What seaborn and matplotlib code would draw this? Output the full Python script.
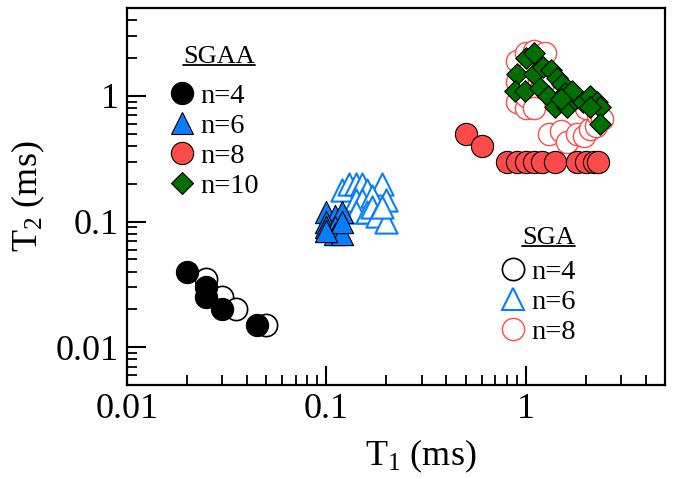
import matplotlib
matplotlib.use("Agg")
import matplotlib.pyplot as plt
import pandas as pd
import seaborn as sns
from matplotlib.lines import Line2D
from matplotlib.ticker import LogLocator, NullFormatter, FixedLocator, FixedFormatter

# ======================================
# DADOS (T1, T2 em ms)
# ======================================
# SGAA (símbolos cheios)
sgaa4_t1 = [0.02, 0.025, 0.025, 0.03, 0.045]
sgaa4_t2 = [0.04, 0.03, 0.025, 0.02, 0.015]

sgaa6_t1 = [0.10, 0.11, 0.12, 0.10, 0.10, 0.11, 0.11, 0.12, 0.12, 0.10]
sgaa6_t2 = [0.12, 0.11, 0.12, 0.10, 0.09, 0.09, 0.08, 0.08, 0.10, 0.085]

sgaa8_t1 = [0.5, 0.6, 0.8, 0.9, 1.0, 1.1, 1.2, 1.4, 1.8, 2.0, 2.2, 2.3]
sgaa8_t2 = [0.5, 0.4, 0.3, 0.3, 0.3, 0.3, 0.3, 0.3, 0.3, 0.3, 0.3, 0.3]

sgaa10_t1 = [1.0, 1.1, 0.9, 1.1, 1.22, 1.33, 1.44, 1.52, 0.88, 0.99, 1.18, 1.29,
             1.4, 1.61, 1.77, 1.94, 2.1, 2.28, 2.36, 2.1, 2.36, 1.58, 1.7, 1.5]
sgaa10_t2 = [2.0, 2.2, 1.5, 1.5, 1.7, 1.6, 1.4, 1.25, 1.1, 1.1, 1.15, 1.0,
             0.82, 0.82, 0.95, 0.9, 1.0, 0.9, 0.82, 0.82, 0.6, 1.05, 1.1, 0.95]

# SGA (símbolos vazios)
sga4_t1 = [0.025, 0.03, 0.035, 0.05]
sga4_t2 = [0.035, 0.025, 0.02, 0.015]

sga6_t1 = [0.12, 0.13, 0.14, 0.15, 0.16, 0.19, 0.14, 0.15, 0.17, 0.20,
           0.14, 0.16, 0.17, 0.18, 0.20, 0.19]
sga6_t2 = [0.18, 0.20, 0.20, 0.20, 0.18, 0.20, 0.15, 0.15, 0.16, 0.15,
           0.12, 0.12, 0.13, 0.11, 0.10, 0.13]

sga8_t1 = [0.9, 1.0, 1.1, 1.25, 0.9, 1.0, 1.3, 1.5, 1.6, 1.8, 1.95, 2.1, 2.25,
           1.0, 1.2, 1.5, 2.0, 2.3, 0.9, 1.0, 1.1, 2.4]
sga8_t2 = [1.9, 2.2, 2.3, 2.2, 0.9, 0.8, 0.5, 0.53, 0.43, 0.5, 0.48, 0.55, 0.58,
           1.5, 1.2, 1.0, 0.8, 0.7, 1.3, 1.0, 0.8, 0.65]

# ======================================
# ESTILO
# ======================================
AZUL = "#0a7dff"
VERMELHO = "#ff4a4a"
VERDE = "#006f00"

sns.set_style("ticks")
plt.rcParams["font.family"] = ["Liberation Serif", "DejaVu Serif"]
plt.rcParams["mathtext.fontset"] = "custom"
plt.rcParams["mathtext.rm"] = "Liberation Serif"
plt.rcParams["mathtext.it"] = "Liberation Serif:italic"
plt.rcParams["text.color"] = "black"
plt.rcParams["axes.labelcolor"] = "black"
plt.rcParams["xtick.color"] = "black"
plt.rcParams["ytick.color"] = "black"

fig = plt.figure(figsize=(6.76, 4.79), dpi=100)
ax = fig.add_axes([0.188, 0.196, 0.796, 0.787])


def df(t1, t2):
    return pd.DataFrame({"T1": t1, "T2": t2})


# SGA - vazios (atrás)
sns.scatterplot(data=df(sga4_t1, sga4_t2), x="T1", y="T2", ax=ax, marker="o", s=256,
                facecolor="white", edgecolor="black", linewidth=1.2, zorder=2, legend=False)
sns.scatterplot(data=df(sga6_t1, sga6_t2), x="T1", y="T2", ax=ax, marker="^", s=256,
                facecolor="white", edgecolor=AZUL, linewidth=1.5, zorder=2, legend=False)
sns.scatterplot(data=df(sga8_t1, sga8_t2), x="T1", y="T2", ax=ax, marker="o", s=256,
                facecolor="white", edgecolor=VERMELHO, linewidth=1.0, zorder=2, legend=False)

# SGAA - cheios (na frente)
sns.scatterplot(data=df(sgaa4_t1, sgaa4_t2), x="T1", y="T2", ax=ax, marker="o", s=256,
                color="black", edgecolor="black", linewidth=0.8, zorder=3, legend=False)
sns.scatterplot(data=df(sgaa6_t1, sgaa6_t2), x="T1", y="T2", ax=ax, marker="^", s=256,
                color=AZUL, edgecolor="black", linewidth=0.8, zorder=3, legend=False)
sns.scatterplot(data=df(sgaa8_t1, sgaa8_t2), x="T1", y="T2", ax=ax, marker="o", s=256,
                color=VERMELHO, edgecolor="black", linewidth=0.8, zorder=3, legend=False)
sns.scatterplot(data=df(sgaa10_t1, sgaa10_t2), x="T1", y="T2", ax=ax, marker="D", s=120,
                color=VERDE, edgecolor="black", linewidth=0.8, zorder=4, legend=False)

# ======================================
# EIXOS
# ======================================
ax.set_xscale("log")
ax.set_yscale("log")
ax.set_xlim(0.01, 5)
ax.set_ylim(0.005, 5)

for eixo in (ax.xaxis, ax.yaxis):
    eixo.set_major_locator(FixedLocator([0.01, 0.1, 1]))
    eixo.set_major_formatter(FixedFormatter(["0.01", "0.1", "1"]))
    eixo.set_minor_locator(LogLocator(base=10, subs=range(2, 10), numticks=20))
    eixo.set_minor_formatter(NullFormatter())
ax.xaxis.set_ticks_position("bottom")
ax.yaxis.set_ticks_position("left")

ax.tick_params(which="major", direction="in", length=14, width=1.5, labelsize=26,
               pad=6, colors="black")
ax.tick_params(which="minor", direction="in", length=7, width=1.3, colors="black")
for sp in ax.spines.values():
    sp.set_linewidth(1.6)
    sp.set_color("black")

ax.set_xlabel("T$_1$ (ms)", fontsize=26)
ax.set_ylabel("T$_2$ (ms)", fontsize=26)
ax.xaxis.set_label_coords(0.545, -0.14)
ax.yaxis.set_label_coords(-0.149, 0.5)

# ======================================
# LEGENDAS
# ======================================
opts = dict(loc="upper left", frameon=False, fontsize=20.5, handlelength=0.8,
            handletextpad=0.25, labelspacing=0.14, borderpad=0, borderaxespad=0)

h_sgaa = [
    Line2D([], [], ls="", marker="o", ms=16, mfc="black", mec="black", mew=0.8),
    Line2D([], [], ls="", marker="^", ms=16, mfc=AZUL, mec="black", mew=0.8),
    Line2D([], [], ls="", marker="o", ms=16, mfc=VERMELHO, mec="black", mew=0.8),
    Line2D([], [], ls="", marker="D", ms=11, mfc=VERDE, mec="black", mew=0.8),
]
leg1 = ax.legend(h_sgaa, ["n=4", "n=6", "n=8", "n=10"], bbox_to_anchor=(0.081, 0.801), **opts)
ax.add_artist(leg1)

h_sga = [
    Line2D([], [], ls="", marker="o", ms=16, mfc="white", mec="black", mew=1.2),
    Line2D([], [], ls="", marker="^", ms=16, mfc="white", mec=AZUL, mew=1.5),
    Line2D([], [], ls="", marker="o", ms=16, mfc="white", mec=VERMELHO, mew=1.0),
]
ax.legend(h_sga, ["n=4", "n=6", "n=8"], bbox_to_anchor=(0.696, 0.334), **opts)

# títulos das legendas, sublinhados
tit1 = ax.text(0.171, 0.870, "SGAA", transform=ax.transAxes, fontsize=19,
               ha="center", va="center")
tit2 = ax.text(0.7825, 0.390, "SGA", transform=ax.transAxes, fontsize=19,
               ha="center", va="center")

fig.canvas.draw()
inv = fig.transFigure.inverted()
for tit in (tit1, tit2):
    bb = tit.get_window_extent()
    (x0, y0), (x1, _) = inv.transform([(bb.x0, bb.y0 + 3), (bb.x1, bb.y0)])
    fig.add_artist(Line2D([x0, x1], [y0, y0], color="black", lw=1.3))

fig.savefig("out.png", dpi=100)
